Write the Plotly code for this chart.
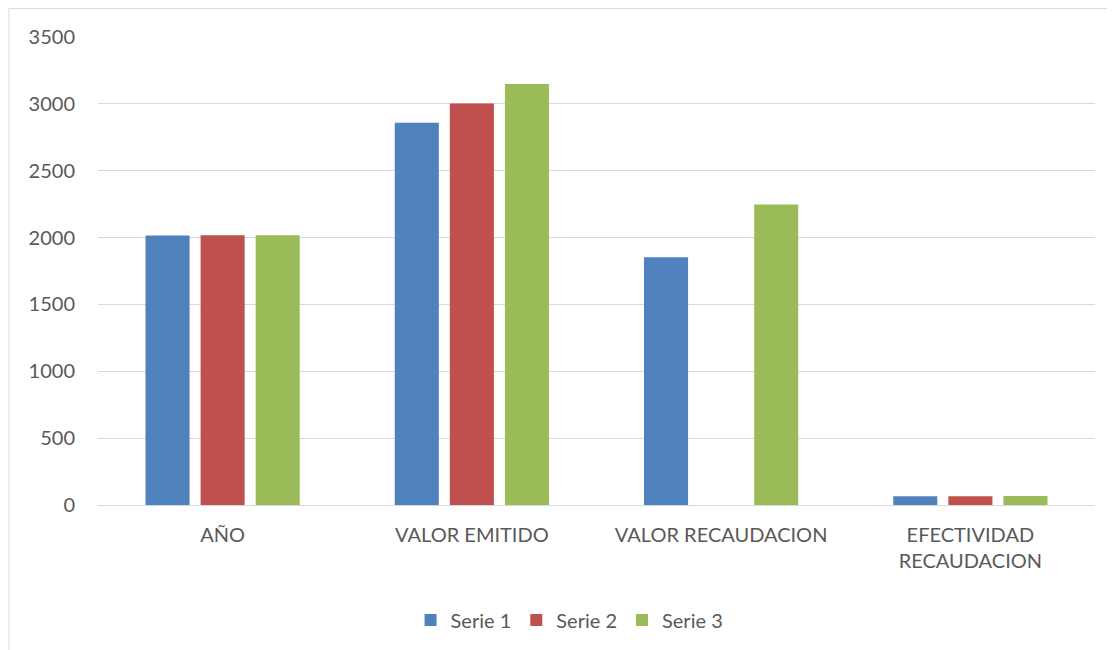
import plotly.graph_objects as go

categories = ["AÑO", "VALOR EMITIDO", "VALOR RECAUDACION", "EFECTIVIDAD<br>RECAUDACION"]
serie1 = [2016, 2858, 1853, 65]
serie2 = [2017, 3002, None, 66]
serie3 = [2018, 3148, 2247, 67]
series_names = ["Serie 1", "Serie 2", "Serie 3"]
colors = ["#4F81BD", "#C0504D", "#9BBB59"]
y_ticks = [0, 500, 1000, 1500, 2000, 2500, 3000, 3500]

fig = go.Figure()
for name, vals, col in zip(series_names, [serie1, serie2, serie3], colors):
    fig.add_trace(go.Bar(x=categories, y=vals, name=name, marker_color=col,
                         marker_line_width=0))

font_main = dict(family="Lato, Open Sans, sans-serif", size=20, color="#595959")

fig.update_layout(
    width=1107, height=642,
    margin=dict(l=90, r=20, t=29, b=144),
    paper_bgcolor="white", plot_bgcolor="white",
    barmode="group", bargap=0.337, bargroupgap=0.2,
    font=font_main,
    showlegend=True,
    legend=dict(orientation="h", x=0.473, xanchor="center", y=-0.243, yanchor="middle",
                font=font_main, itemwidth=30, traceorder="normal"),
    xaxis=dict(showgrid=False, showline=True, linecolor="#d9d9d9", linewidth=1,
               ticks="", tickfont=font_main, ticklabelstandoff=12),
    yaxis=dict(range=[0, 3500], tickvals=y_ticks, showgrid=True, gridcolor="#d9d9d9",
               gridwidth=1, zeroline=False, showline=False, ticks="",
               ticklabelstandoff=22, tickfont=font_main),
    shapes=[
        dict(type="line", xref="paper", yref="paper", x0=-0.0893, x1=1.05,
             y0=1.0608, y1=1.0608, line=dict(color="#d9d9d9", width=1)),
        dict(type="line", xref="paper", yref="paper", x0=-0.0893, x1=-0.0893,
             y0=1.0608, y1=-0.35, line=dict(color="#d9d9d9", width=1)),
    ],
)

fig.write_html("out.html")
